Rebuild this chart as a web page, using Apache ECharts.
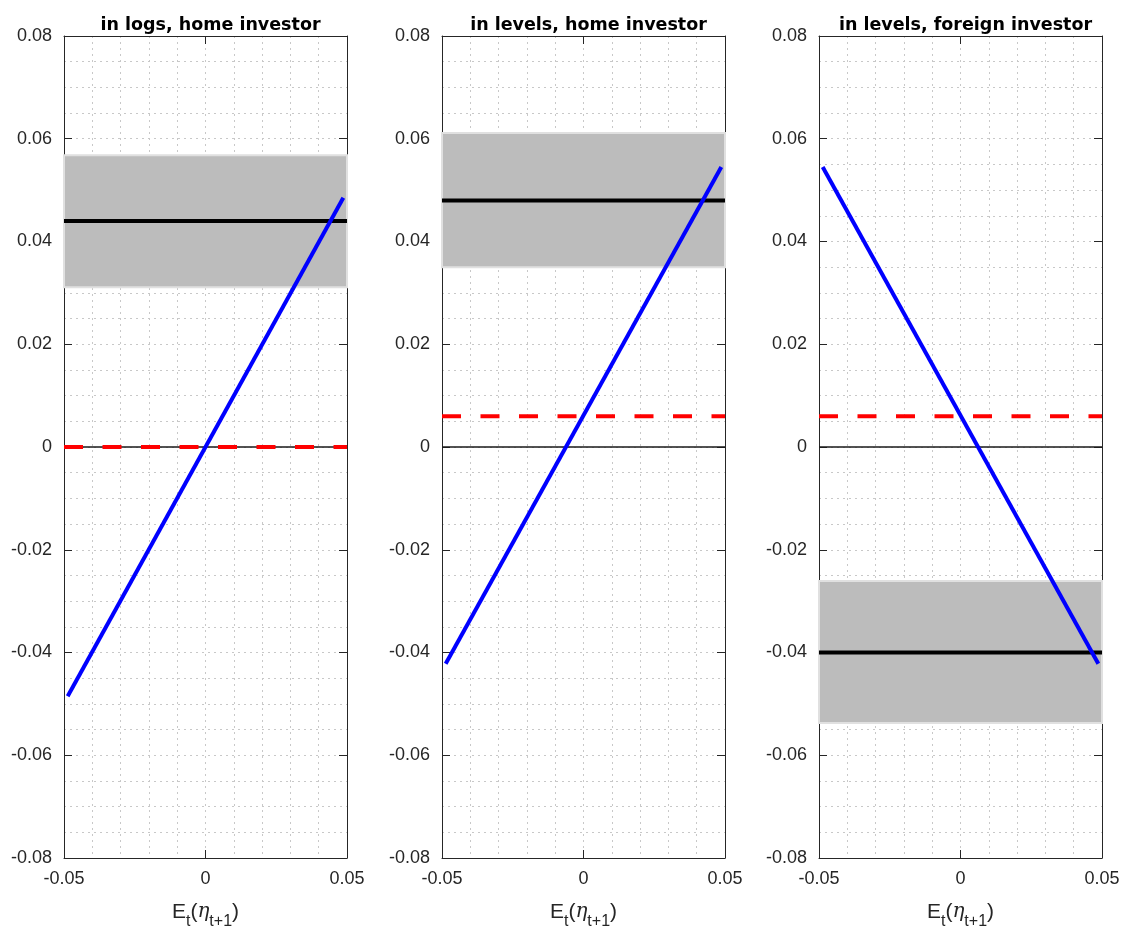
<!DOCTYPE html>
<html>
<head>
<meta charset="utf-8">
<script src="https://cdn.jsdelivr.net/npm/echarts@6/dist/echarts.min.js"></script>
<style>
html,body{margin:0;padding:0;background:#fff;}
#chart{width:1122px;height:926px;}
</style>
</head>
<body>
<div id="chart"></div>
<script>
// ---- data ----
const panelTitles = ['in logs, home investor', 'in levels, home investor', 'in levels, foreign investor'];
const xRange = [-0.05, 0.05];
const yRange = [-0.08, 0.08];
const blueX = [-0.0487, 0.0487];
const blueY = [[-0.0485, 0.0485], [-0.0422, 0.0545], [0.0545, -0.0422]];
const meanLevel = [0.044, 0.048, -0.040];
const bandLow = [0.0311, 0.0350, -0.0537];
const bandHigh = [0.0568, 0.0611, -0.0261];
const redLevel = [0, 0.006, 0.006];
const zeroLevel = 0;

// ---- layout ----
const gridLefts = [64, 442, 819];
const gridWidth = 283, gridTop = 36, gridHeight = 822;
const txt = '#262626';
const tickFont = 'Liberation Sans';

function fmt(v) {
  const r = +(+v).toFixed(3);
  return r === 0 ? '0' : String(r);
}

const grids = [], xAxes = [], yAxes = [], series = [], titles = [];
for (let i = 0; i < 3; i++) {
  grids.push({left: gridLefts[i], top: gridTop, width: gridWidth, height: gridHeight,
              containLabel: false, outerBoundsMode: 'none'});
  titles.push({
    text: panelTitles[i], left: gridLefts[i] + gridWidth / 2, top: 11, textAlign: 'center',
    textStyle: {fontFamily: 'DejaVu Sans', fontWeight: 'bold', fontSize: 17.5, color: '#000'}
  });
  // bottom x axis
  xAxes.push({
    type: 'value', gridIndex: i, position: 'bottom', min: xRange[0], max: xRange[1], interval: 0.05,
    axisLine: {show: true, onZero: false, lineStyle: {color: txt, width: 1}},
    axisTick: {show: true, inside: true, length: 8, lineStyle: {color: txt}},
    axisLabel: {show: true, margin: 12, color: txt, fontFamily: tickFont, fontSize: 18, formatter: fmt},
    splitLine: {show: true, lineStyle: {color: '#c8c8c8', type: [2, 4], width: 1}},
    minorTick: {show: false, splitNumber: 5},
    minorSplitLine: {show: true, lineStyle: {color: '#c8c8c8', type: [2, 4], width: 1}},
    name: '{e|E}{s|t}{e|(}{g|η}{s|t+1}{e|)}',
    nameLocation: 'middle', nameGap: 42,
    nameTextStyle: {
      color: txt,
      rich: {
        e: {fontFamily: tickFont, fontSize: 21, color: txt, lineHeight: 24, verticalAlign: 'middle'},
        g: {fontFamily: 'DejaVu Serif', fontStyle: 'italic', fontSize: 20, color: txt, lineHeight: 24, verticalAlign: 'middle'},
        s: {fontFamily: tickFont, fontSize: 16, color: txt, lineHeight: 16, padding: [14, 0, 0, 0], verticalAlign: 'top'}
      }
    }
  });
  // top mirror x axis
  xAxes.push({
    type: 'value', gridIndex: i, position: 'top', min: xRange[0], max: xRange[1], interval: 0.05,
    axisLine: {show: true, onZero: false, lineStyle: {color: txt, width: 1}},
    axisTick: {show: true, inside: true, length: 8, lineStyle: {color: txt}},
    axisLabel: {show: false}, splitLine: {show: false}
  });
  // left y axis
  yAxes.push({
    type: 'value', gridIndex: i, position: 'left', min: yRange[0], max: yRange[1], interval: 0.02,
    axisLine: {show: true, onZero: false, lineStyle: {color: txt, width: 1}},
    axisTick: {show: true, inside: true, length: 8, lineStyle: {color: txt}},
    axisLabel: {show: true, margin: 12, color: txt, fontFamily: tickFont, fontSize: 18, formatter: fmt},
    splitLine: {show: true, lineStyle: {color: '#c8c8c8', type: [2, 4], width: 1}},
    minorTick: {show: false, splitNumber: 4},
    minorSplitLine: {show: true, lineStyle: {color: '#c8c8c8', type: [2, 4], width: 1}}
  });
  // right mirror y axis
  yAxes.push({
    type: 'value', gridIndex: i, position: 'right', min: yRange[0], max: yRange[1], interval: 0.02,
    axisLine: {show: true, onZero: false, lineStyle: {color: txt, width: 1}},
    axisTick: {show: true, inside: true, length: 8, lineStyle: {color: txt}},
    axisLabel: {show: false}, splitLine: {show: false}
  });
  const xa = 2 * i, ya = 2 * i;
  // zero line
  series.push({
    type: 'line', xAxisIndex: xa, yAxisIndex: ya, symbol: 'none', silent: true, z: 2,
    data: [[xRange[0], zeroLevel], [xRange[1], zeroLevel]],
    lineStyle: {color: '#1a1a1a', width: 1.3}
  });
  // mean line with band
  series.push({
    type: 'line', xAxisIndex: xa, yAxisIndex: ya, symbol: 'none', silent: true, z: 3,
    data: [[xRange[0], meanLevel[i]], [xRange[1], meanLevel[i]]],
    lineStyle: {color: '#000', width: 4},
    markArea: {
      silent: true,
      itemStyle: {color: '#bcbcbc', borderColor: '#e0e0e0', borderWidth: 2, opacity: 1},
      data: [[{coord: [xRange[0], bandLow[i]]}, {coord: [xRange[1], bandHigh[i]]}]]
    }
  });
  // red dashed
  series.push({
    type: 'line', xAxisIndex: xa, yAxisIndex: ya, symbol: 'none', silent: true, z: 4,
    data: [[xRange[0], redLevel[i]], [xRange[1], redLevel[i]]],
    lineStyle: {color: '#ff0000', width: 4, type: [19, 19.5]}
  });
  // blue line
  series.push({
    type: 'line', xAxisIndex: xa, yAxisIndex: ya, symbol: 'none', silent: true, z: 5,
    data: [[blueX[0], blueY[i][0]], [blueX[1], blueY[i][1]]],
    lineStyle: {color: '#0000ff', width: 4}
  });
}

const chart = echarts.init(document.getElementById('chart'), null, {renderer: 'canvas'});
chart.setOption({
  animation: false,
  backgroundColor: '#fff',
  title: titles,
  grid: grids,
  xAxis: xAxes,
  yAxis: yAxes,
  series: series
});
</script>
</body>
</html>
